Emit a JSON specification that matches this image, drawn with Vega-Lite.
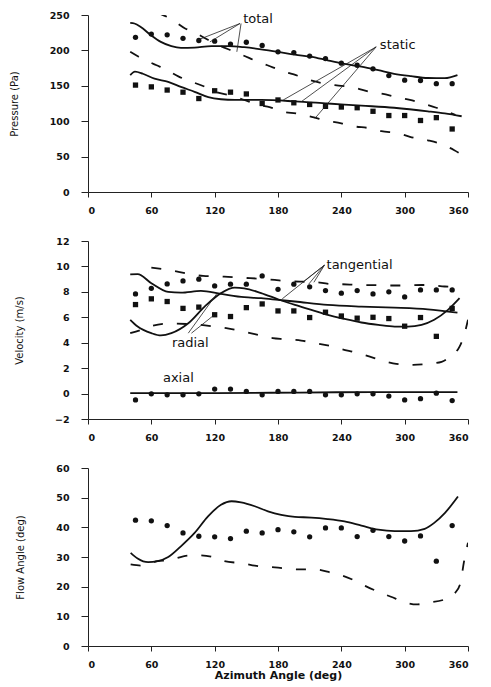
{
  "$schema": "https://vega.github.io/schema/vega-lite/v6.json",
  "padding": {"left": 9, "top": 10, "right": 6, "bottom": 0},
  "spacing": 21,
  "config": {
    "view": {"stroke": null},
    "axis": {"labelFont": "DejaVu Sans", "labelFontSize": 9.5, "labelFontWeight": "bold", "labelColor": "#111", "domainColor": "#222", "tickColor": "#222", "grid": false, "labelOverlap": false, "titleFont": "DejaVu Sans", "titleFontWeight": "normal", "titleFontSize": 10, "titleColor": "#111"},
    "axisX": {"tickSize": 5, "labelPadding": 8},
    "axisY": {"tickSize": 7, "labelPadding": 12, "titlePadding": 30},
    "text": {"font": "DejaVu Sans", "fontSize": 13, "color": "#111"}
  },
  "datasets": {
    "p_pts": [
      {"a": 45, "v": 218.5, "s": "total"}, {"a": 60, "v": 223, "s": "total"}, {"a": 75, "v": 222, "s": "total"}, {"a": 90, "v": 217, "s": "total"}, {"a": 105, "v": 214, "s": "total"}, {"a": 120, "v": 213, "s": "total"}, {"a": 135, "v": 209, "s": "total"}, {"a": 150, "v": 211.5, "s": "total"}, {"a": 165, "v": 207, "s": "total"}, {"a": 180, "v": 198, "s": "total"}, {"a": 195, "v": 197, "s": "total"}, {"a": 210, "v": 192, "s": "total"}, {"a": 225, "v": 188.5, "s": "total"}, {"a": 240, "v": 182, "s": "total"}, {"a": 255, "v": 179, "s": "total"}, {"a": 270, "v": 174, "s": "total"}, {"a": 285, "v": 164.5, "s": "total"}, {"a": 300, "v": 158, "s": "total"}, {"a": 315, "v": 157.5, "s": "total"}, {"a": 330, "v": 153, "s": "total"}, {"a": 345, "v": 153, "s": "total"},
      {"a": 45, "v": 151, "s": "static"}, {"a": 60, "v": 148.5, "s": "static"}, {"a": 75, "v": 144, "s": "static"}, {"a": 90, "v": 141, "s": "static"}, {"a": 105, "v": 132, "s": "static"}, {"a": 120, "v": 143, "s": "static"}, {"a": 135, "v": 141, "s": "static"}, {"a": 150, "v": 138.5, "s": "static"}, {"a": 165, "v": 125, "s": "static"}, {"a": 180, "v": 130, "s": "static"}, {"a": 195, "v": 126, "s": "static"}, {"a": 210, "v": 123.6, "s": "static"}, {"a": 225, "v": 121, "s": "static"}, {"a": 240, "v": 120, "s": "static"}, {"a": 255, "v": 119, "s": "static"}, {"a": 270, "v": 114, "s": "static"}, {"a": 285, "v": 108, "s": "static"}, {"a": 300, "v": 108, "s": "static"}, {"a": 315, "v": 101, "s": "static"}, {"a": 330, "v": 105, "s": "static"}, {"a": 345, "v": 89, "s": "static"}
    ],
    "p_lines": [
      {"a": 40, "v": 239, "c": "total", "k": "solid"}, {"a": 44, "v": 238, "c": "total", "k": "solid"}, {"a": 50, "v": 233, "c": "total", "k": "solid"}, {"a": 60, "v": 221, "c": "total", "k": "solid"}, {"a": 69, "v": 212, "c": "total", "k": "solid"}, {"a": 79, "v": 206, "c": "total", "k": "solid"}, {"a": 88, "v": 203.5, "c": "total", "k": "solid"}, {"a": 101, "v": 204, "c": "total", "k": "solid"}, {"a": 117, "v": 206, "c": "total", "k": "solid"}, {"a": 133, "v": 206, "c": "total", "k": "solid"}, {"a": 148, "v": 204.5, "c": "total", "k": "solid"}, {"a": 164, "v": 201.6, "c": "total", "k": "solid"}, {"a": 180, "v": 198, "c": "total", "k": "solid"}, {"a": 196, "v": 194, "c": "total", "k": "solid"}, {"a": 212, "v": 191, "c": "total", "k": "solid"}, {"a": 227, "v": 186, "c": "total", "k": "solid"}, {"a": 243, "v": 181, "c": "total", "k": "solid"}, {"a": 259, "v": 177, "c": "total", "k": "solid"}, {"a": 275, "v": 172, "c": "total", "k": "solid"}, {"a": 290, "v": 167, "c": "total", "k": "solid"}, {"a": 306, "v": 163.6, "c": "total", "k": "solid"}, {"a": 322, "v": 161, "c": "total", "k": "solid"}, {"a": 338, "v": 160.7, "c": "total", "k": "solid"}, {"a": 350, "v": 165, "c": "total", "k": "solid"},
      {"a": 40, "v": 165, "c": "static", "k": "solid"}, {"a": 44.5, "v": 170, "c": "static", "k": "solid"}, {"a": 52, "v": 167, "c": "static", "k": "solid"}, {"a": 63, "v": 160, "c": "static", "k": "solid"}, {"a": 76, "v": 155.6, "c": "static", "k": "solid"}, {"a": 88, "v": 148.5, "c": "static", "k": "solid"}, {"a": 101, "v": 141.5, "c": "static", "k": "solid"}, {"a": 114, "v": 134, "c": "static", "k": "solid"}, {"a": 126, "v": 131, "c": "static", "k": "solid"}, {"a": 139, "v": 130, "c": "static", "k": "solid"}, {"a": 164, "v": 130, "c": "static", "k": "solid"}, {"a": 196, "v": 128, "c": "static", "k": "solid"}, {"a": 227, "v": 125, "c": "static", "k": "solid"}, {"a": 259, "v": 122, "c": "static", "k": "solid"}, {"a": 290, "v": 119, "c": "static", "k": "solid"}, {"a": 322, "v": 114, "c": "static", "k": "solid"}, {"a": 338, "v": 111, "c": "static", "k": "solid"}, {"a": 354, "v": 107, "c": "static", "k": "solid"},
      {"a": 66, "v": 253, "c": "total", "k": "dash"}, {"a": 78, "v": 245, "c": "total", "k": "dash"}, {"a": 92, "v": 231, "c": "total", "k": "dash"}, {"a": 100, "v": 226, "c": "total", "k": "dash"}, {"a": 114, "v": 214.7, "c": "total", "k": "dash"}, {"a": 120, "v": 210, "c": "total", "k": "dash"}, {"a": 139, "v": 198, "c": "total", "k": "dash"}, {"a": 147, "v": 193, "c": "total", "k": "dash"}, {"a": 161, "v": 184, "c": "total", "k": "dash"}, {"a": 170, "v": 179, "c": "total", "k": "dash"}, {"a": 186, "v": 170, "c": "total", "k": "dash"}, {"a": 197, "v": 165, "c": "total", "k": "dash"}, {"a": 213, "v": 157, "c": "total", "k": "dash"}, {"a": 224, "v": 153, "c": "total", "k": "dash"}, {"a": 240, "v": 150, "c": "total", "k": "dash"}, {"a": 251, "v": 147.6, "c": "total", "k": "dash"}, {"a": 267, "v": 141.5, "c": "total", "k": "dash"}, {"a": 278, "v": 139, "c": "total", "k": "dash"}, {"a": 294, "v": 133.5, "c": "total", "k": "dash"}, {"a": 305, "v": 130, "c": "total", "k": "dash"}, {"a": 320, "v": 123.6, "c": "total", "k": "dash"}, {"a": 330, "v": 119, "c": "total", "k": "dash"}, {"a": 348, "v": 109, "c": "total", "k": "dash"},
      {"a": 40, "v": 198, "c": "static", "k": "dash"}, {"a": 48, "v": 191, "c": "static", "k": "dash"}, {"a": 65, "v": 179, "c": "static", "k": "dash"}, {"a": 72, "v": 174.5, "c": "static", "k": "dash"}, {"a": 86, "v": 163, "c": "static", "k": "dash"}, {"a": 94, "v": 158, "c": "static", "k": "dash"}, {"a": 111, "v": 148.5, "c": "static", "k": "dash"}, {"a": 120, "v": 142, "c": "static", "k": "dash"}, {"a": 136, "v": 136, "c": "static", "k": "dash"}, {"a": 146, "v": 131, "c": "static", "k": "dash"}, {"a": 163, "v": 122.7, "c": "static", "k": "dash"}, {"a": 172, "v": 120, "c": "static", "k": "dash"}, {"a": 186, "v": 113, "c": "static", "k": "dash"}, {"a": 197, "v": 111, "c": "static", "k": "dash"}, {"a": 215, "v": 105, "c": "static", "k": "dash"}, {"a": 224, "v": 101.5, "c": "static", "k": "dash"}, {"a": 240, "v": 97, "c": "static", "k": "dash"}, {"a": 251, "v": 93, "c": "static", "k": "dash"}, {"a": 267, "v": 90, "c": "static", "k": "dash"}, {"a": 278, "v": 86, "c": "static", "k": "dash"}, {"a": 294, "v": 83, "c": "static", "k": "dash"}, {"a": 305, "v": 78, "c": "static", "k": "dash"}, {"a": 322, "v": 73, "c": "static", "k": "dash"}, {"a": 332, "v": 69, "c": "static", "k": "dash"}, {"a": 347, "v": 59, "c": "static", "k": "dash"}, {"a": 355, "v": 52, "c": "static", "k": "dash"}
    ],
    "p_lead": [
      {"a": 144, "v": 238, "a2": 104.5, "v2": 215}, {"a": 144, "v": 238, "a2": 115.5, "v2": 212}, {"a": 145, "v": 238, "a2": 141, "v2": 198},
      {"a": 273, "v": 205, "a2": 185, "v2": 130}, {"a": 273, "v": 205, "a2": 202, "v2": 127.5}, {"a": 273, "v": 205, "a2": 215, "v2": 104}
    ],
    "p_text": [{"a": 147, "v": 245, "t": "total"}, {"a": 276.5, "v": 207.5, "t": "static"}],
    "v_pts": [
      {"a": 45, "v": 7.84, "s": "tangential"}, {"a": 60, "v": 8.28, "s": "tangential"}, {"a": 75, "v": 8.62, "s": "tangential"}, {"a": 90, "v": 8.86, "s": "tangential"}, {"a": 105, "v": 9.0, "s": "tangential"}, {"a": 120, "v": 8.47, "s": "tangential"}, {"a": 135, "v": 8.6, "s": "tangential"}, {"a": 150, "v": 8.6, "s": "tangential"}, {"a": 165, "v": 9.25, "s": "tangential"}, {"a": 180, "v": 8.2, "s": "tangential"}, {"a": 195, "v": 8.6, "s": "tangential"}, {"a": 210, "v": 8.4, "s": "tangential"}, {"a": 225, "v": 8.1, "s": "tangential"}, {"a": 240, "v": 7.9, "s": "tangential"}, {"a": 255, "v": 8.1, "s": "tangential"}, {"a": 270, "v": 7.84, "s": "tangential"}, {"a": 285, "v": 8.0, "s": "tangential"}, {"a": 300, "v": 7.6, "s": "tangential"}, {"a": 315, "v": 8.15, "s": "tangential"}, {"a": 330, "v": 8.15, "s": "tangential"}, {"a": 345, "v": 8.15, "s": "tangential"},
      {"a": 45, "v": 7.0, "s": "radial"}, {"a": 60, "v": 7.45, "s": "radial"}, {"a": 75, "v": 7.24, "s": "radial"}, {"a": 90, "v": 6.7, "s": "radial"}, {"a": 105, "v": 6.8, "s": "radial"}, {"a": 120, "v": 6.2, "s": "radial"}, {"a": 135, "v": 6.06, "s": "radial"}, {"a": 150, "v": 6.76, "s": "radial"}, {"a": 165, "v": 7.05, "s": "radial"}, {"a": 180, "v": 6.5, "s": "radial"}, {"a": 195, "v": 6.5, "s": "radial"}, {"a": 210, "v": 5.98, "s": "radial"}, {"a": 225, "v": 6.4, "s": "radial"}, {"a": 240, "v": 6.1, "s": "radial"}, {"a": 255, "v": 5.93, "s": "radial"}, {"a": 270, "v": 6.0, "s": "radial"}, {"a": 285, "v": 5.9, "s": "radial"}, {"a": 300, "v": 5.3, "s": "radial"}, {"a": 315, "v": 5.98, "s": "radial"}, {"a": 330, "v": 4.5, "s": "radial"}, {"a": 345, "v": 6.7, "s": "radial"},
      {"a": 45, "v": -0.5, "s": "axial"}, {"a": 60, "v": -0.02, "s": "axial"}, {"a": 75, "v": -0.1, "s": "axial"}, {"a": 90, "v": -0.1, "s": "axial"}, {"a": 105, "v": -0.02, "s": "axial"}, {"a": 120, "v": 0.35, "s": "axial"}, {"a": 135, "v": 0.35, "s": "axial"}, {"a": 150, "v": 0.17, "s": "axial"}, {"a": 165, "v": -0.1, "s": "axial"}, {"a": 180, "v": 0.17, "s": "axial"}, {"a": 195, "v": 0.17, "s": "axial"}, {"a": 210, "v": 0.17, "s": "axial"}, {"a": 225, "v": -0.1, "s": "axial"}, {"a": 240, "v": -0.1, "s": "axial"}, {"a": 255, "v": -0.02, "s": "axial"}, {"a": 270, "v": -0.02, "s": "axial"}, {"a": 285, "v": -0.2, "s": "axial"}, {"a": 300, "v": -0.5, "s": "axial"}, {"a": 315, "v": -0.4, "s": "axial"}, {"a": 330, "v": 0.03, "s": "axial"}, {"a": 345, "v": -0.55, "s": "axial"}
    ],
    "v_lines": [
      {"a": 40, "v": 9.38, "c": "tangential", "k": "solid"}, {"a": 47, "v": 9.4, "c": "tangential", "k": "solid"}, {"a": 60, "v": 8.68, "c": "tangential", "k": "solid"}, {"a": 76, "v": 8.0, "c": "tangential", "k": "solid"}, {"a": 88, "v": 7.94, "c": "tangential", "k": "solid"}, {"a": 107, "v": 8.07, "c": "tangential", "k": "solid"}, {"a": 126, "v": 7.84, "c": "tangential", "k": "solid"}, {"a": 148, "v": 7.58, "c": "tangential", "k": "solid"}, {"a": 164, "v": 7.5, "c": "tangential", "k": "solid"}, {"a": 180, "v": 7.37, "c": "tangential", "k": "solid"}, {"a": 196, "v": 7.24, "c": "tangential", "k": "solid"}, {"a": 227, "v": 6.97, "c": "tangential", "k": "solid"}, {"a": 259, "v": 6.84, "c": "tangential", "k": "solid"}, {"a": 290, "v": 6.76, "c": "tangential", "k": "solid"}, {"a": 322, "v": 6.63, "c": "tangential", "k": "solid"}, {"a": 350, "v": 6.37, "c": "tangential", "k": "solid"},
      {"a": 40, "v": 5.8, "c": "radial", "k": "solid"}, {"a": 47, "v": 5.27, "c": "radial", "k": "solid"}, {"a": 60, "v": 4.75, "c": "radial", "k": "solid"}, {"a": 69, "v": 4.57, "c": "radial", "k": "solid"}, {"a": 79, "v": 4.75, "c": "radial", "k": "solid"}, {"a": 95, "v": 5.53, "c": "radial", "k": "solid"}, {"a": 110.5, "v": 6.84, "c": "radial", "k": "solid"}, {"a": 126, "v": 7.9, "c": "radial", "k": "solid"}, {"a": 139, "v": 8.33, "c": "radial", "k": "solid"}, {"a": 148, "v": 8.28, "c": "radial", "k": "solid"}, {"a": 164, "v": 7.9, "c": "radial", "k": "solid"}, {"a": 180, "v": 7.42, "c": "radial", "k": "solid"}, {"a": 196, "v": 6.97, "c": "radial", "k": "solid"}, {"a": 211.6, "v": 6.58, "c": "radial", "k": "solid"}, {"a": 227, "v": 6.19, "c": "radial", "k": "solid"}, {"a": 243, "v": 5.87, "c": "radial", "k": "solid"}, {"a": 259, "v": 5.59, "c": "radial", "k": "solid"}, {"a": 275, "v": 5.4, "c": "radial", "k": "solid"}, {"a": 290.5, "v": 5.27, "c": "radial", "k": "solid"}, {"a": 303, "v": 5.27, "c": "radial", "k": "solid"}, {"a": 316, "v": 5.4, "c": "radial", "k": "solid"}, {"a": 328, "v": 5.8, "c": "radial", "k": "solid"}, {"a": 341, "v": 6.58, "c": "radial", "k": "solid"}, {"a": 352, "v": 7.5, "c": "radial", "k": "solid"},
      {"a": 40, "v": 0.03, "c": "axial", "k": "solid"}, {"a": 120, "v": 0.04, "c": "axial", "k": "solid"}, {"a": 200, "v": 0.08, "c": "axial", "k": "solid"}, {"a": 280, "v": 0.12, "c": "axial", "k": "solid"}, {"a": 350, "v": 0.12, "c": "axial", "k": "solid"},
      {"a": 60, "v": 9.9, "c": "tangential", "k": "dash"}, {"a": 76, "v": 9.72, "c": "tangential", "k": "dash"}, {"a": 98, "v": 9.38, "c": "tangential", "k": "dash"}, {"a": 109, "v": 9.25, "c": "tangential", "k": "dash"}, {"a": 129, "v": 9.2, "c": "tangential", "k": "dash"}, {"a": 148, "v": 9.1, "c": "tangential", "k": "dash"}, {"a": 161, "v": 9.04, "c": "tangential", "k": "dash"}, {"a": 177, "v": 8.94, "c": "tangential", "k": "dash"}, {"a": 186, "v": 8.86, "c": "tangential", "k": "dash"}, {"a": 202, "v": 8.8, "c": "tangential", "k": "dash"}, {"a": 213, "v": 8.78, "c": "tangential", "k": "dash"}, {"a": 230, "v": 8.62, "c": "tangential", "k": "dash"}, {"a": 240, "v": 8.6, "c": "tangential", "k": "dash"}, {"a": 259, "v": 8.54, "c": "tangential", "k": "dash"}, {"a": 270, "v": 8.53, "c": "tangential", "k": "dash"}, {"a": 286, "v": 8.5, "c": "tangential", "k": "dash"}, {"a": 298, "v": 8.5, "c": "tangential", "k": "dash"}, {"a": 316, "v": 8.54, "c": "tangential", "k": "dash"}, {"a": 325, "v": 8.52, "c": "tangential", "k": "dash"}, {"a": 338, "v": 8.42, "c": "tangential", "k": "dash"}, {"a": 350, "v": 8.38, "c": "tangential", "k": "dash"},
      {"a": 40, "v": 4.75, "c": "radial", "k": "dash"}, {"a": 50, "v": 5.0, "c": "radial", "k": "dash"}, {"a": 60, "v": 5.3, "c": "radial", "k": "dash"}, {"a": 76, "v": 5.5, "c": "radial", "k": "dash"}, {"a": 100, "v": 5.45, "c": "radial", "k": "dash"}, {"a": 120, "v": 5.27, "c": "radial", "k": "dash"}, {"a": 131, "v": 5.14, "c": "radial", "k": "dash"}, {"a": 147, "v": 4.88, "c": "radial", "k": "dash"}, {"a": 158, "v": 4.67, "c": "radial", "k": "dash"}, {"a": 175, "v": 4.36, "c": "radial", "k": "dash"}, {"a": 185, "v": 4.28, "c": "radial", "k": "dash"}, {"a": 202, "v": 4.17, "c": "radial", "k": "dash"}, {"a": 213, "v": 4.0, "c": "radial", "k": "dash"}, {"a": 229, "v": 3.75, "c": "radial", "k": "dash"}, {"a": 240, "v": 3.5, "c": "radial", "k": "dash"}, {"a": 256, "v": 3.18, "c": "radial", "k": "dash"}, {"a": 267, "v": 2.9, "c": "radial", "k": "dash"}, {"a": 283, "v": 2.5, "c": "radial", "k": "dash"}, {"a": 292, "v": 2.34, "c": "radial", "k": "dash"}, {"a": 308, "v": 2.26, "c": "radial", "k": "dash"}, {"a": 319, "v": 2.31, "c": "radial", "k": "dash"}, {"a": 335, "v": 2.5, "c": "radial", "k": "dash"}, {"a": 343, "v": 2.9, "c": "radial", "k": "dash"}, {"a": 352, "v": 3.7, "c": "radial", "k": "dash"}, {"a": 356, "v": 4.5, "c": "radial", "k": "dash"}, {"a": 360, "v": 5.8, "c": "radial", "k": "dash"}
    ],
    "v_lead": [
      {"a": 224, "v": 10.1, "a2": 184, "v2": 7.45}, {"a": 224, "v": 10.1, "a2": 204, "v2": 8.8}, {"a": 224, "v": 10.1, "a2": 209, "v2": 8.6}, {"a": 224, "v": 10.1, "a2": 214, "v2": 8.75},
      {"a": 95, "v": 4.75, "a2": 122, "v2": 7.85}, {"a": 98, "v": 4.75, "a2": 119, "v2": 6.15}
    ],
    "v_text": [{"a": 226, "v": 10.1, "t": "tangential"}, {"a": 79.5, "v": 4.0, "t": "radial"}, {"a": 71, "v": 1.2, "t": "axial"}],
    "f_pts": [
      {"a": 45, "v": 42.4}, {"a": 60, "v": 42.2}, {"a": 75, "v": 40.6}, {"a": 90, "v": 38.1}, {"a": 105, "v": 37.0}, {"a": 120, "v": 36.8}, {"a": 135, "v": 36.2}, {"a": 150, "v": 38.7}, {"a": 165, "v": 38.1}, {"a": 180, "v": 39.2}, {"a": 195, "v": 38.5}, {"a": 210, "v": 36.8}, {"a": 225, "v": 39.8}, {"a": 240, "v": 39.8}, {"a": 255, "v": 36.9}, {"a": 270, "v": 39.0}, {"a": 285, "v": 36.9}, {"a": 300, "v": 35.4}, {"a": 315, "v": 37.1}, {"a": 330, "v": 28.6}, {"a": 345, "v": 40.6}
    ],
    "f_lines": [
      {"a": 40.4, "v": 31.4, "k": "solid"}, {"a": 47, "v": 29.5, "k": "solid"}, {"a": 57, "v": 28.25, "k": "solid"}, {"a": 66, "v": 28.6, "k": "solid"}, {"a": 76, "v": 30.0, "k": "solid"}, {"a": 88, "v": 33.6, "k": "solid"}, {"a": 101, "v": 38.1, "k": "solid"}, {"a": 113.7, "v": 43.7, "k": "solid"}, {"a": 126, "v": 47.6, "k": "solid"}, {"a": 136, "v": 48.8, "k": "solid"}, {"a": 145, "v": 48.4, "k": "solid"}, {"a": 158, "v": 47.1, "k": "solid"}, {"a": 170.5, "v": 45.4, "k": "solid"}, {"a": 183, "v": 44.2, "k": "solid"}, {"a": 196, "v": 43.5, "k": "solid"}, {"a": 211.6, "v": 43.3, "k": "solid"}, {"a": 227, "v": 42.8, "k": "solid"}, {"a": 243, "v": 42.0, "k": "solid"}, {"a": 259, "v": 40.6, "k": "solid"}, {"a": 275, "v": 39.2, "k": "solid"}, {"a": 290.5, "v": 38.7, "k": "solid"}, {"a": 306, "v": 38.7, "k": "solid"}, {"a": 319, "v": 39.5, "k": "solid"}, {"a": 328, "v": 41.5, "k": "solid"}, {"a": 338, "v": 44.8, "k": "solid"}, {"a": 350.5, "v": 50.4, "k": "solid"},
      {"a": 40.4, "v": 27.5, "k": "dash"}, {"a": 50.5, "v": 27.1, "k": "dash"}, {"a": 66, "v": 28.6, "k": "dash"}, {"a": 76, "v": 28.9, "k": "dash"}, {"a": 95, "v": 30.5, "k": "dash"}, {"a": 104, "v": 30.6, "k": "dash"}, {"a": 121.6, "v": 29.7, "k": "dash"}, {"a": 129, "v": 28.6, "k": "dash"}, {"a": 148, "v": 27.8, "k": "dash"}, {"a": 158, "v": 27.1, "k": "dash"}, {"a": 177, "v": 26.5, "k": "dash"}, {"a": 186, "v": 26.2, "k": "dash"}, {"a": 202, "v": 25.8, "k": "dash"}, {"a": 215, "v": 25.8, "k": "dash"}, {"a": 230.5, "v": 24.7, "k": "dash"}, {"a": 240, "v": 23.8, "k": "dash"}, {"a": 256, "v": 21.5, "k": "dash"}, {"a": 263, "v": 20.2, "k": "dash"}, {"a": 279, "v": 17.7, "k": "dash"}, {"a": 287, "v": 16.6, "k": "dash"}, {"a": 301.6, "v": 14.6, "k": "dash"}, {"a": 311, "v": 14.0, "k": "dash"}, {"a": 322, "v": 14.6, "k": "dash"}, {"a": 339.5, "v": 15.9, "k": "dash"}, {"a": 348, "v": 18, "k": "dash"}, {"a": 353, "v": 21.5, "k": "dash"}, {"a": 356, "v": 28, "k": "dash"}, {"a": 360, "v": 34.8, "k": "dash"}
    ]
  },
  "vconcat": [
    {
      "width": 380, "height": 177,
      "encoding": {
        "x": {"field": "a", "type": "quantitative", "scale": {"domain": [0, 360], "nice": false}, "axis": {"title": null, "values": [0, 60, 120, 180, 240, 300, 360]}},
        "y": {"field": "v", "type": "quantitative", "scale": {"domain": [0, 250], "nice": false}, "axis": {"title": "Pressure (Pa)", "values": [0, 50, 100, 150, 200, 250]}}
      },
      "layer": [
        {
          "data": {"name": "p_lines"}, "transform": [{"filter": "datum.k == 'solid'"}],
          "mark": {"type": "line", "interpolate": "monotone", "color": "#111", "strokeWidth": 1.8, "clip": true},
          "encoding": {"detail": {"field": "c"}}
        },
        {
          "data": {"name": "p_lines"}, "transform": [{"filter": "datum.k == 'dash'"}],
          "mark": {"type": "line", "interpolate": "monotone", "color": "#111", "strokeWidth": 1.8, "strokeDash": [10, 14], "clip": true},
          "encoding": {"detail": {"field": "c"}}
        },
        {
          "data": {"name": "p_pts"},
          "mark": {"type": "point", "filled": true, "color": "#111", "opacity": 1, "size": 28},
          "encoding": {"shape": {"field": "s", "type": "nominal", "scale": {"domain": ["total", "static"], "range": ["circle", "square"]}, "legend": null}}
        },
        {
          "data": {"name": "p_lead"},
          "mark": {"type": "rule", "color": "#222", "strokeWidth": 0.8},
          "encoding": {"x2": {"field": "a2"}, "y2": {"field": "v2"}}
        },
        {
          "data": {"name": "p_text"},
          "mark": {"type": "text", "align": "left", "baseline": "middle"},
          "encoding": {"text": {"field": "t"}}
        }
      ]
    },
    {
      "width": 380, "height": 178,
      "encoding": {
        "x": {"field": "a", "type": "quantitative", "scale": {"domain": [0, 360], "nice": false}, "axis": {"title": null, "values": [0, 60, 120, 180, 240, 300, 360]}},
        "y": {"field": "v", "type": "quantitative", "scale": {"domain": [-2, 12], "nice": false}, "axis": {"title": "Velocity (m/s)", "values": [-2, 0, 2, 4, 6, 8, 10, 12]}}
      },
      "layer": [
        {
          "data": {"name": "v_lines"}, "transform": [{"filter": "datum.k == 'solid'"}],
          "mark": {"type": "line", "interpolate": "monotone", "color": "#111", "strokeWidth": 1.8, "clip": true},
          "encoding": {"detail": {"field": "c"}}
        },
        {
          "data": {"name": "v_lines"}, "transform": [{"filter": "datum.k == 'dash'"}],
          "mark": {"type": "line", "interpolate": "monotone", "color": "#111", "strokeWidth": 1.8, "strokeDash": [10, 14], "clip": true},
          "encoding": {"detail": {"field": "c"}}
        },
        {
          "data": {"name": "v_pts"},
          "mark": {"type": "point", "filled": true, "color": "#111", "opacity": 1},
          "encoding": {
            "shape": {"field": "s", "type": "nominal", "scale": {"domain": ["tangential", "radial", "axial"], "range": ["circle", "square", "triangle-up"]}, "legend": null},
            "size": {"field": "s", "type": "nominal", "scale": {"domain": ["tangential", "radial", "axial"], "range": [28, 28, 45]}, "legend": null}
          }
        },
        {
          "data": {"name": "v_lead"},
          "mark": {"type": "rule", "color": "#222", "strokeWidth": 0.8},
          "encoding": {"x2": {"field": "a2"}, "y2": {"field": "v2"}}
        },
        {
          "data": {"name": "v_text"},
          "mark": {"type": "text", "align": "left", "baseline": "middle"},
          "encoding": {"text": {"field": "t"}}
        }
      ]
    },
    {
      "width": 380, "height": 178,
      "encoding": {
        "x": {"field": "a", "type": "quantitative", "scale": {"domain": [0, 360], "nice": false}, "axis": {"title": "Azimuth Angle (deg)", "values": [0, 60, 120, 180, 240, 300, 360], "titleFontWeight": "bold", "titleFontSize": 11, "titlePadding": 1}},
        "y": {"field": "v", "type": "quantitative", "scale": {"domain": [0, 60], "nice": false}, "axis": {"title": "Flow Angle (deg)", "values": [0, 10, 20, 30, 40, 50, 60]}}
      },
      "layer": [
        {
          "data": {"name": "f_lines"}, "transform": [{"filter": "datum.k == 'solid'"}],
          "mark": {"type": "line", "interpolate": "monotone", "color": "#111", "strokeWidth": 1.8, "clip": true},
          "encoding": {}
        },
        {
          "data": {"name": "f_lines"}, "transform": [{"filter": "datum.k == 'dash'"}],
          "mark": {"type": "line", "interpolate": "monotone", "color": "#111", "strokeWidth": 1.8, "strokeDash": [10, 14], "clip": true},
          "encoding": {}
        },
        {
          "data": {"name": "f_pts"},
          "mark": {"type": "circle", "color": "#111", "opacity": 1, "size": 28},
          "encoding": {}
        }
      ]
    }
  ]
}
